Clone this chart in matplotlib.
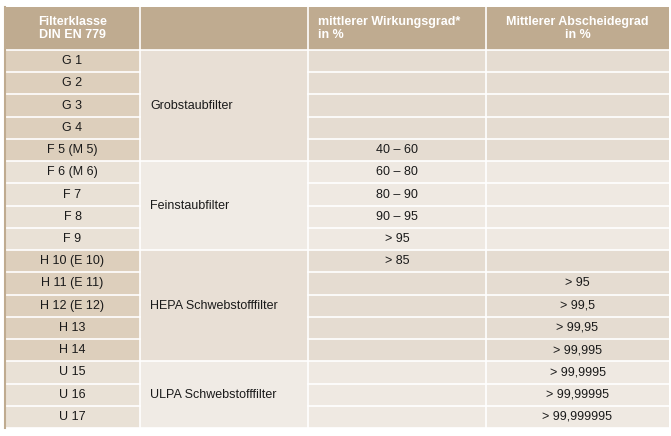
import matplotlib
matplotlib.use("Agg")
import matplotlib.pyplot as plt
from matplotlib.patches import Rectangle

headers = ["Filterklasse\nDIN EN 779", "", "mittlerer Wirkungsgrad*\nin %", "Mittlerer Abscheidegrad\nin %"]
classes = ["G 1", "G 2", "G 3", "G 4", "F 5 (M 5)", "F 6 (M 6)", "F 7", "F 8", "F 9",
           "H 10 (E 10)", "H 11 (E 11)", "H 12 (E 12)", "H 13", "H 14", "U 15", "U 16", "U 17"]
wirkungsgrad = ["", "", "", "", "40 – 60", "60 – 80", "80 – 90", "90 – 95", "> 95",
                "> 85", "", "", "", "", "", "", ""]
abscheidegrad = ["", "", "", "", "", "", "", "", "", "", "> 95", "> 99,5", "> 99,95",
                 "> 99,995", "> 99,9995", "> 99,99995", "> 99,999995"]
groups = ["Grobstaubfilter", "Feinstaubfilter", "HEPA Schwebstofffilter", "ULPA Schwebstofffilter"]
group_sizes = [5, 4, 5, 3]

W, H = 671, 436
fig = plt.figure(figsize=(W / 100, H / 100), dpi=100)
ax = fig.add_axes([0, 0, 1, 1])
ax.set_xlim(0, W); ax.set_ylim(H, 0); ax.axis("off")

font = "Liberation Sans"
fs = 9
cols = [5, 140, 308, 486, 669]
top, head_h = 7, 43
row_h = (428 - (top + head_h)) / len(classes)
y0 = top + head_h

dark = {"c0": "#DDCFBC", "mid": "#E8DFD5", "r": "#E5DCD1"}
light = {"c0": "#E9E1D6", "mid": "#F0EBE5", "r": "#EFE9E2"}
schemes = [dark, light, dark, light]

ax.add_patch(Rectangle((cols[0], top), cols[-1] - cols[0], head_h, color="#BFAB90", lw=0))
for i, h in enumerate(headers):
    if not h:
        continue
    if i == 2:
        ax.text(cols[i] + 10, top + head_h / 2, h, ha="left", va="center", color="white",
                fontsize=fs, fontweight="bold", family=font, linespacing=1.15)
    else:
        ax.text((cols[i] + cols[i + 1]) / 2, top + head_h / 2, h, ha="center", va="center",
                color="white", fontsize=fs, fontweight="bold", family=font, linespacing=1.15)

r = 0
for g, n, sch in zip(groups, group_sizes, schemes):
    gy = y0 + r * row_h
    ax.add_patch(Rectangle((cols[1], gy), cols[2] - cols[1], n * row_h, color=sch["mid"], lw=0))
    ax.text(cols[1] + 10, gy + n * row_h / 2, g, ha="left", va="center", fontsize=fs,
            family=font, color="#1a1a1a")
    for k in range(n):
        yy = y0 + (r + k) * row_h
        ax.add_patch(Rectangle((cols[0], yy), cols[1] - cols[0], row_h, color=sch["c0"], lw=0))
        ax.add_patch(Rectangle((cols[2], yy), cols[4] - cols[2], row_h, color=sch["r"], lw=0))
        ax.text((cols[0] + cols[1]) / 2, yy + row_h / 2, classes[r + k], ha="center", va="center",
                fontsize=fs, family=font, color="#1a1a1a")
        ax.text((cols[2] + cols[3]) / 2, yy + row_h / 2, wirkungsgrad[r + k], ha="center", va="center",
                fontsize=fs, family=font, color="#1a1a1a")
        ax.text((cols[3] + cols[4]) / 2, yy + row_h / 2, abscheidegrad[r + k], ha="center", va="center",
                fontsize=fs, family=font, color="#1a1a1a")
        if k > 0:
            ax.plot([cols[0], cols[1]], [yy, yy], color="white", lw=1.2)
            ax.plot([cols[2], cols[4]], [yy, yy], color="white", lw=1.2)
    r += n
    ax.plot([cols[0], cols[4]], [y0 + r * row_h] * 2, color="white", lw=1.2)

ax.plot([cols[0], cols[4]], [y0, y0], color="white", lw=1.2)
for x in cols[1:4]:
    ax.plot([x, x], [top, y0 + r * row_h], color="white", lw=1.2)
ax.plot([cols[0], cols[0]], [top, y0 + r * row_h], color="#BFAB90", lw=1.5)

fig.savefig("out.png", dpi=100)
